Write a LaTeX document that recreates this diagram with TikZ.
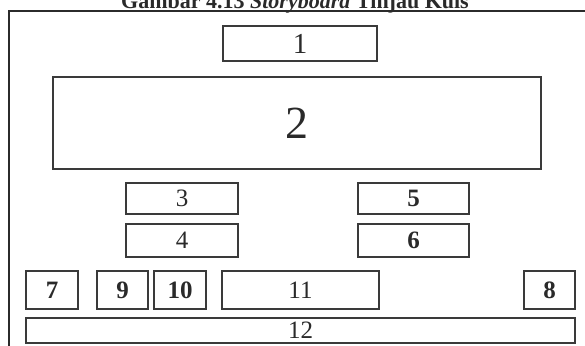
\documentclass[tikz,border=0pt]{standalone}
\usepackage{fontspec}
\setmainfont{Liberation Serif}
\usetikzlibrary{positioning}
\definecolor{FrameGray}{HTML}{2B2B2B}
\definecolor{BoxGray}{HTML}{3A3A3A}
\definecolor{TextGray}{HTML}{2A2A2A}
\tikzset{
  frame/.style={draw=FrameGray, line width=2.4pt},
  storybox/.style={draw=BoxGray, line width=2pt, anchor=north west, inner sep=0pt, text=TextGray, font=\fontsize{25}{25}\selectfont},
  boldbox/.style={storybox, font=\fontsize{25}{25}\selectfont\bfseries},
  caption/.style={anchor=base, text=TextGray, font=\fontsize{22}{22}\selectfont\bfseries}
}

\begin{document}
\begin{tikzpicture}[x=1pt, y=-1pt]
    \useasboundingbox (0,0) rectangle (585,345);
    \clip (0,0) rectangle (585,345);
    \node[caption] (cap) at (295,8.5) {Gambar 4.13 \textit{Storyboard} Tinjau Kuis};
    \draw[frame] (9,11) rectangle (600,360);

    % header and main area
    \node[storybox, minimum width=154pt, minimum height=35pt, font=\fontsize{29}{29}\selectfont] (b1) at (222,25) {1};
    \node[storybox, minimum width=488pt, minimum height=92pt, font=\fontsize{46}{46}\selectfont] (b2) at (52,76) {2};

    % middle rows
    \node[storybox, minimum width=112pt, minimum height=31pt] (b3) at (125,182) {3};
    \node[storybox, minimum width=112pt, minimum height=33pt] (b4) at (125,223) {4};
    \node[boldbox, minimum width=111pt, minimum height=31pt] (b5) at (357,182) {5};
    \node[boldbox, minimum width=111pt, minimum height=33pt] (b6) at (357,223) {6};

    % bottom row
    \node[boldbox, minimum width=52pt, minimum height=38pt] (b7) at (25,270) {7};
    \node[boldbox, minimum width=51pt, minimum height=38pt] (b9) at (96,270) {9};
    \node[boldbox, minimum width=52pt, minimum height=38pt] (b10) at (153,270) {10};
    \node[storybox, minimum width=157pt, minimum height=38pt] (b11) at (221,270) {11};
    \node[boldbox, minimum width=51pt, minimum height=38pt] (b8) at (523,270) {8};
    \node[storybox, minimum width=549pt, minimum height=25pt] (b12) at (25,317) {12};
  \end{tikzpicture}
\end{document}
